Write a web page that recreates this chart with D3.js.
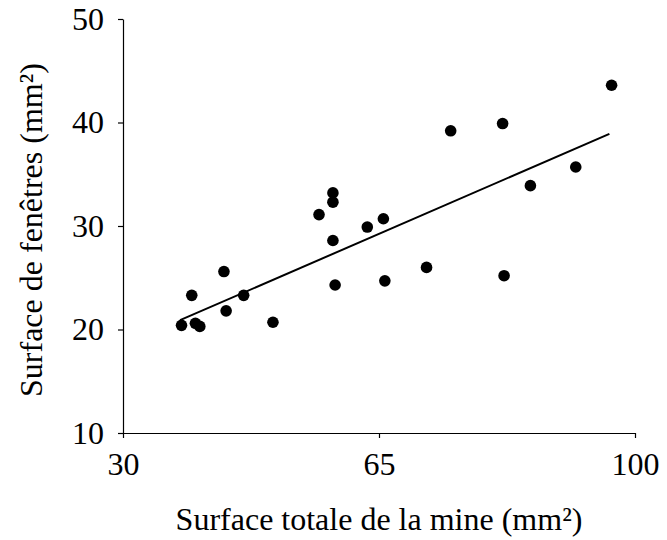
<!DOCTYPE html>
<html>
<head>
<meta charset="utf-8">
<script src="https://cdn.jsdelivr.net/npm/d3@7"></script>
<style>
  body { margin: 0; background: #fff; }
</style>
</head>
<body>
<div id="chart"></div>
<script>
// Data
const totalArea = [38.0, 39.9, 40.5, 39.4, 43.8, 44.1, 46.5, 50.5, 59.0, 65.8, 58.7, 58.7,
                   56.8, 63.4, 65.6, 58.7, 71.5, 74.8, 81.9, 96.8, 91.9, 85.7, 82.1];
const windowArea = [20.4, 20.6, 20.3, 23.3, 25.6, 21.8, 23.3, 20.7, 24.3, 24.7, 33.2, 32.3,
                    31.1, 29.9, 30.7, 28.6, 26.0, 39.2, 39.9, 43.6, 35.7, 33.9, 25.2];
const trendX = [37.8, 96.5];
const trendY = [20.9, 38.9];
const xTicks = [30, 65, 100];
const yTicks = [10, 20, 30, 40, 50];

/**
 * Proportions of the SVG
 */
let svgWidth = 667;
let svgHeight = 540;

let plotLeft = 123;
let plotRight = 635;
let plotTop = 19;
let plotBottom = 433;

let tickSize = 5;
let tickFont = 32;
let titleFont = 32;
let fontFamily = "'Liberation Serif', 'Times New Roman', serif";

const svg = d3.select("#chart")
    .append("svg")
    .attr("width", svgWidth)
    .attr("height", svgHeight);

const x = d3.scaleLinear().domain([30, 100]).range([plotLeft, plotRight]);
const y = d3.scaleLinear().domain([10, 50]).range([plotBottom, plotTop]);

// x axis
const xAxis = svg.append("g")
    .attr("transform", `translate(0, ${plotBottom})`)
    .call(d3.axisBottom(x).tickValues(xTicks).tickSize(tickSize).tickSizeOuter(0).tickPadding(14));

// y axis
const yAxis = svg.append("g")
    .attr("transform", `translate(${plotLeft}, 0)`)
    .call(d3.axisLeft(y).tickValues(yTicks).tickSize(tickSize).tickSizeOuter(0).tickPadding(14));

[xAxis, yAxis].forEach(a => {
    a.select(".domain").attr("stroke", "#000").attr("stroke-width", 1.2);
    a.selectAll(".tick line").attr("stroke", "#000").attr("stroke-width", 1.2);
    a.selectAll(".tick text")
        .attr("fill", "#000")
        .attr("font-family", fontFamily)
        .attr("font-size", tickFont);
});

// trend line
svg.append("line")
    .attr("x1", x(trendX[0]))
    .attr("y1", y(trendY[0]))
    .attr("x2", x(trendX[1]))
    .attr("y2", y(trendY[1]))
    .attr("stroke", "#000")
    .attr("stroke-width", 2);

// points
svg.append("g")
    .selectAll("circle")
    .data(totalArea)
    .enter()
    .append("circle")
    .attr("cx", d => x(d))
    .attr("cy", (_, i) => y(windowArea[i]))
    .attr("r", 5.8)
    .attr("fill", "#000");

// axis titles
svg.append("text")
    .attr("x", (plotLeft + plotRight) / 2)
    .attr("y", 530)
    .attr("text-anchor", "middle")
    .attr("font-family", fontFamily)
    .attr("font-size", titleFont)
    .text("Surface totale de la mine (mm²)");

svg.append("text")
    .attr("transform", "translate(42, 230) rotate(-90)")
    .attr("text-anchor", "middle")
    .attr("font-family", fontFamily)
    .attr("font-size", titleFont)
    .text("Surface de fenêtres (mm²)");
</script>
</body>
</html>
